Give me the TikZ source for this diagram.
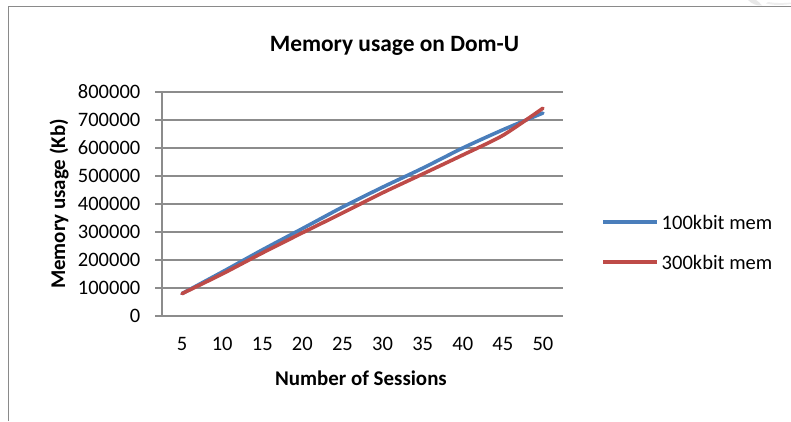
\documentclass[tikz,border=0pt]{standalone}
\usepackage{fontspec}
\setmainfont{Carlito}
\definecolor{seriesblue}{HTML}{4A7EBB}
\definecolor{seriesred}{HTML}{BE4B48}
\definecolor{gridgray}{HTML}{8C8C8C}
\definecolor{framegray}{HTML}{8A8A8A}
\tikzset{
  gridline/.style={draw=gridgray, line width=1.4bp},
  ticklabel/.style={inner sep=0pt, font=\fontsize{20.6}{24}\selectfont},
  axistitle/.style={inner sep=0pt, font=\fontsize{21}{25}\selectfont\bfseries},
  charttitle/.style={inner sep=0pt, font=\fontsize{23.5}{28}\selectfont\bfseries},
  serieslineA/.style={draw=seriesblue, line width=3.6bp, line cap=round, line join=round},
  serieslineB/.style={draw=seriesred, line width=3.6bp, line cap=round, line join=round},
}
\begin{document}
\begin{tikzpicture}[x=1bp, y=-1bp]
  \useasboundingbox (0,0) rectangle (791,421);
  \fill[white] (0,0) rectangle (791,421);

  % chart frame (cut off on the right and at the bottom)
  \draw[framegray, line width=1.6bp] (8.5,421) -- (8.5,6.5) -- (791,6.5);
  % faint mark at the top right corner
  \fill[gray!30, opacity=0.6] (748,0) .. controls (752,4) and (757,6) .. (762,5.5)
        .. controls (760,3) and (758,1) .. (756,0) -- cycle;
  \fill[gray!25, opacity=0.5] (766,3.5) .. controls (772,5) and (780,5.5) .. (791,4)
        -- (791,2.5) .. controls (782,3.5) and (774,3) .. (768,2) -- cycle;

  % title
  \node[charttitle, anchor=base] (title) at (394.5,51.7) {Memory usage on Dom-U};

  % horizontal gridlines, y tick marks and labels (0 .. 800000)
  \foreach \k in {1,...,8} {
    \draw[gridline] (155,{316-28*\k}) -- (563,{316-28*\k});
  }
  \foreach \k/\lab in {0/0,1/100000,2/200000,3/300000,4/400000,5/500000,6/600000,7/700000,8/800000} {
    \node[ticklabel, anchor=east] (ylab\k) at (140.5,{316-28*\k}) {\lab};
  }

  % axes
  \coordinate (origin) at (162,316);
  \coordinate (ytop) at (162,92);
  \coordinate (xend) at (563,316);
  \draw[gridline] (155,316) -- (xend);
  \draw[gridline] (ytop) -- (origin);

  % category labels
  \foreach \c [count=\i from 0] in {5,10,15,20,25,30,35,40,45,50} {
    \node[ticklabel] (xlab\i) at ({182.05+40.1*\i},344) {\c};
  }

  % axis titles
  \node[axistitle] (xtitle) at (361,378) {Number of Sessions};
  \node[axistitle, rotate=90, anchor=base] (ytitle) at (65,204) {Memory usage (Kb)};

  % data series
  \draw[serieslineA] plot[smooth, tension=0.4] coordinates {
    (182.05,293.6) (222.15,272.0) (262.25,249.9) (302.35,228.6) (342.45,207.1)
    (382.55,187.2) (422.65,168.2) (462.75,148.0) (502.85,129.8) (542.95,113.0)};
  \draw[serieslineB] plot[smooth, tension=0.4] coordinates {
    (182.05,293.6) (222.15,274.0) (262.25,253.0) (302.35,232.8) (342.45,213.0)
    (382.55,192.8) (422.65,174.0) (462.75,155.0) (502.85,135.4) (542.95,108.2)};

  % legend
  \coordinate (legAa) at (603,222);
  \coordinate (legAb) at (657,222);
  \coordinate (legBa) at (603,262);
  \coordinate (legBb) at (657,262);
  \draw[serieslineA, line cap=butt, line width=3.2bp] (legAa) -- (legAb);
  \draw[serieslineB, line cap=butt, line width=3.2bp] (legBa) -- (legBb);
  \node[ticklabel, anchor=west] (legA) at (661.5,222) {100kbit mem};
  \node[ticklabel, anchor=west] (legB) at (661.5,262) {300kbit mem};
\end{tikzpicture}
\end{document}
